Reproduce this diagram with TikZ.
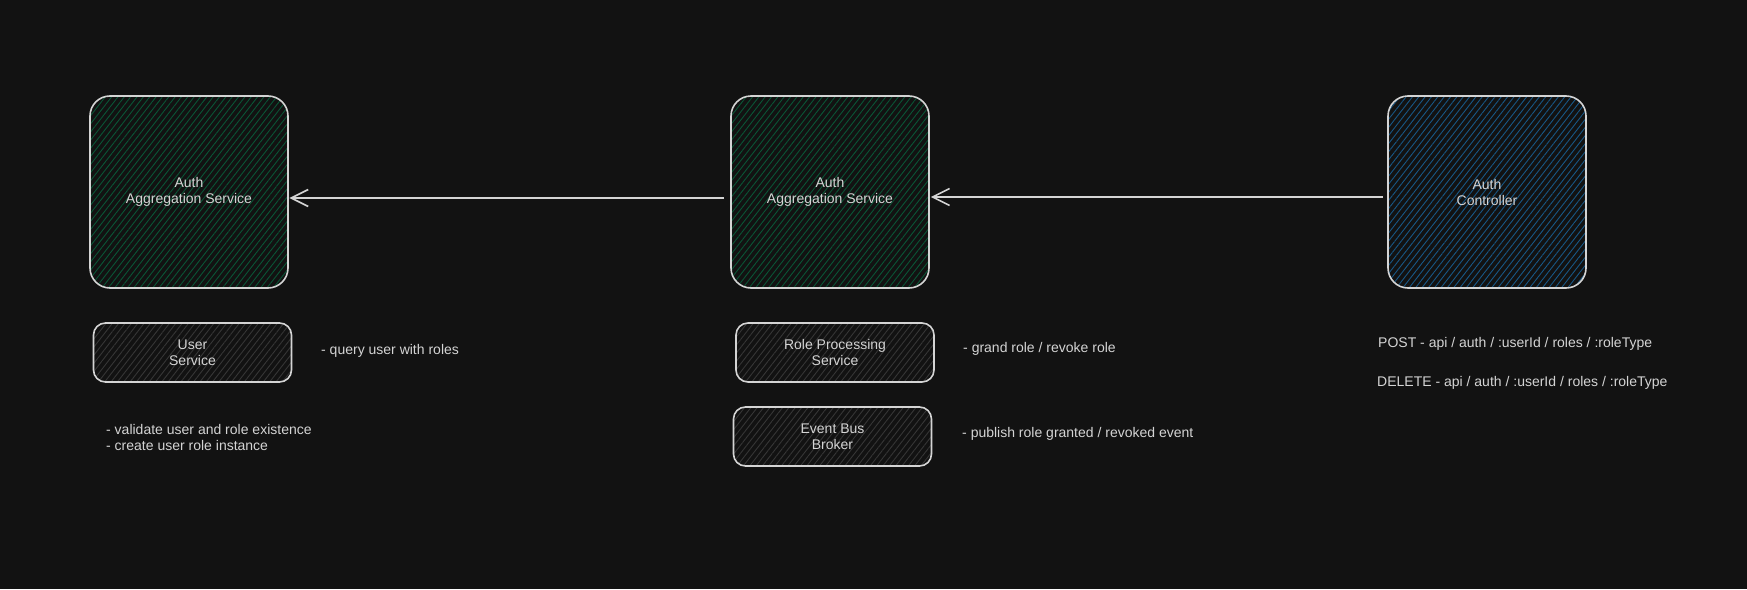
\documentclass[tikz,border=0pt]{standalone}
\usepackage{fontspec}
\setmainfont{Liberation Sans}
\usetikzlibrary{arrows.meta,patterns.meta,positioning}

\definecolor{bg}{HTML}{121212}
\definecolor{ink}{HTML}{D4D4D4}
\definecolor{hgreen}{HTML}{0A5536}
\definecolor{hblue}{HTML}{185785}
\definecolor{hgray}{HTML}{363636}

\tikzset{
  big/.style={draw=ink, line width=1.6pt, rounded corners=20pt, minimum width=198pt, minimum height=192pt, align=center, text=ink, font=\fontsize{14}{16}\selectfont,
    pattern={Lines[angle=52,distance=5pt,line width=0.9pt]}},
  small/.style={big, rounded corners=12pt, minimum height=59pt, pattern color=hgray},
  note/.style={anchor=west, text=ink, align=left, inner sep=0pt, font=\fontsize{14}{16}\selectfont},
  flow/.style={draw=ink, line width=1.8pt, -{Straight Barb[length=17pt,width=17pt,line width=1.6pt]}}
}

\begin{document}
\begin{tikzpicture}[x=1pt, y=-1pt]
    \fill[bg] (0,0) rectangle (1747,589);
    \useasboundingbox (0,0) rectangle (1747,589);

    % top row
    \node[big, pattern color=hgreen] (agg1) at (189,192) {Auth\\Aggregation Service};
    \node[big, pattern color=hgreen] (agg2) at (830,192) {Auth\\Aggregation Service};
    \node[big, pattern color=hblue] (ctrl) at (1487,192) {Auth\\Controller};

    \draw[flow] ([xshift=-6pt, yshift=-6pt]agg2.west) -- ([xshift=1pt, yshift=-6pt]agg1.east);
    \draw[flow] ([xshift=-4pt, yshift=-5pt]ctrl.west) -- ([xshift=1pt, yshift=-5pt]agg2.east);

    % services
    \node[small] (user) at (192.5,352.5) {User\\Service};
    \node[small] (role) at (835,352.5) {Role Processing\\Service};
    \node[small] (bus) at (832.5,436.5) {Event Bus\\Broker};

    % notes
    \node[note] (userNote) at (321,351) {- query user with roles};
    \node[note] (aggNote) at (106,437) {- validate user and role existence\\- create user role instance};
    \node[note] (roleNote) at (963,349) {- grand role / revoke role};
    \node[note] (busNote) at (962,434) {- publish role granted / revoked event};
    \node[note] (post) at (1378,344) {POST - api / auth / :userId / roles / :roleType};
    \node[note] (delete) at (1377,383) {DELETE - api / auth / :userId / roles / :roleType};
\end{tikzpicture}
\end{document}
